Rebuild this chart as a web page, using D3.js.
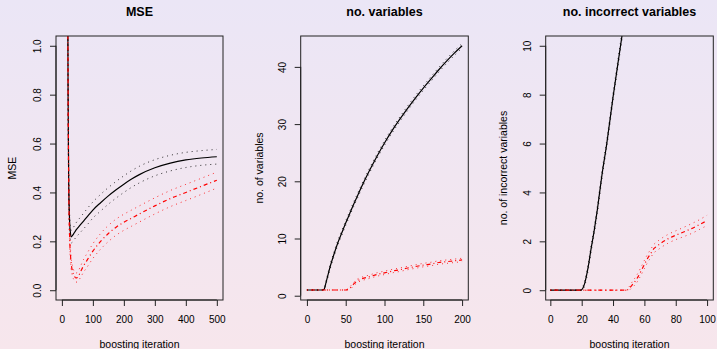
<!doctype html>
<html>
<head>
<title>boosting</title>
<script src="https://d3js.org/d3.v7.min.js"></script>
<style>
body { margin: 0; }
text { font-family: 'Liberation Sans', Arial, sans-serif; fill: #000; }
</style>
</head>
<body>
<div id="container"></div>
<script>

//// data ////

// MSE panel
var mseIter   = [18, 20, 22, 25, 28, 30, 35, 40, 45, 50, 60, 70, 80, 100, 125, 150, 175, 200, 225, 250, 300, 350, 400, 450, 500];
var mseBlack  = [1.6, 0.8, 0.45, 0.28, 0.23, 0.218, 0.225, 0.235, 0.245, 0.253, 0.268, 0.283, 0.298, 0.328, 0.358, 0.386, 0.411, 0.434, 0.455, 0.473, 0.501, 0.52, 0.533, 0.541, 0.546];
var mseBlackUp = [1.7, 0.86, 0.49, 0.31, 0.255, 0.245, 0.252, 0.263, 0.274, 0.283, 0.299, 0.315, 0.331, 0.361, 0.392, 0.42, 0.445, 0.468, 0.489, 0.507, 0.534, 0.552, 0.564, 0.571, 0.576];
var mseBlackLo = [1.5, 0.74, 0.41, 0.25, 0.205, 0.193, 0.198, 0.207, 0.216, 0.223, 0.237, 0.251, 0.265, 0.295, 0.324, 0.352, 0.377, 0.4, 0.421, 0.439, 0.468, 0.488, 0.502, 0.511, 0.516];
var mseRed    = [1.6, 0.85, 0.45, 0.22, 0.14, 0.11, 0.075, 0.058, 0.05, 0.052, 0.075, 0.1, 0.12, 0.16, 0.2, 0.232, 0.258, 0.278, 0.295, 0.312, 0.345, 0.375, 0.4, 0.425, 0.45];
var mseRedUp  = [1.7, 0.92, 0.5, 0.25, 0.165, 0.133, 0.095, 0.077, 0.07, 0.073, 0.098, 0.126, 0.148, 0.19, 0.232, 0.265, 0.291, 0.311, 0.328, 0.345, 0.378, 0.408, 0.433, 0.458, 0.483];
var mseRedLo  = [1.5, 0.78, 0.4, 0.19, 0.115, 0.087, 0.055, 0.04, 0.033, 0.034, 0.052, 0.074, 0.092, 0.13, 0.168, 0.199, 0.225, 0.245, 0.262, 0.279, 0.312, 0.342, 0.367, 0.392, 0.418];

// no. variables panel
var nvIter    = [0, 10, 20, 22, 25, 30, 35, 40, 45, 50, 55, 60, 65, 70, 80, 90, 100, 110, 120, 130, 140, 150, 160, 170, 180, 190, 200];
var nvBlack   = [1, 1, 1, 1.1, 2.5, 5.1, 7.3, 9.3, 11.0, 12.7, 14.3, 15.9, 17.4, 18.9, 21.7, 24.3, 26.7, 28.9, 30.9, 32.8, 34.6, 36.3, 37.9, 39.5, 41.0, 42.4, 43.7];
var nvBlackUp = [1, 1, 1, 1.3, 2.8, 5.5, 7.7, 9.7, 11.4, 13.1, 14.7, 16.3, 17.8, 19.3, 22.1, 24.7, 27.1, 29.3, 31.3, 33.2, 35.0, 36.7, 38.3, 39.9, 41.4, 42.8, 44.1];
var nvBlackLo = [1, 1, 1, 1.0, 2.2, 4.7, 6.9, 8.9, 10.6, 12.3, 13.9, 15.5, 17.0, 18.5, 21.3, 23.9, 26.3, 28.5, 30.5, 32.4, 34.2, 35.9, 37.5, 39.1, 40.6, 42.0, 43.3];
var nvRed     = [1, 1, 1, 1, 1, 1, 1, 1, 1, 1, 1.3, 2.0, 2.6, 2.9, 3.3, 3.7, 4.0, 4.3, 4.55, 4.85, 5.1, 5.35, 5.55, 5.8, 5.95, 6.1, 6.25];
var nvRedUp   = [1, 1, 1, 1, 1, 1, 1, 1, 1, 1, 1.5, 2.3, 2.9, 3.2, 3.6, 4.0, 4.3, 4.6, 4.85, 5.15, 5.4, 5.65, 5.85, 6.1, 6.25, 6.4, 6.55];
var nvRedLo   = [1, 1, 1, 1, 1, 1, 1, 1, 1, 1, 1.1, 1.7, 2.3, 2.6, 3.0, 3.4, 3.7, 4.0, 4.25, 4.55, 4.8, 5.05, 5.25, 5.5, 5.65, 5.8, 5.95];

// no. incorrect variables panel
var niIterBlack = [0, 10, 19, 20, 22, 24, 26, 28, 30, 33, 36, 40, 45, 50];
var niBlack     = [0, 0, 0, 0.02, 0.3, 0.9, 1.7, 2.45, 3.3, 4.75, 6.0, 7.9, 10.1, 12.3];
var niBlackUp   = [0, 0, 0, 0.05, 0.4, 1.02, 1.83, 2.6, 3.45, 4.9, 6.15, 8.05, 10.25, 12.45];
var niBlackLo   = [0, 0, 0, 0, 0.2, 0.78, 1.57, 2.3, 3.15, 4.6, 5.85, 7.75, 9.95, 12.15];
var niIterRed   = [0, 10, 20, 30, 40, 48, 50, 52, 55, 58, 60, 62, 64, 66, 68, 70, 75, 80, 85, 90, 95, 100];
var niRed       = [0, 0, 0, 0, 0, 0, 0.05, 0.2, 0.45, 0.8, 1.05, 1.3, 1.5, 1.7, 1.8, 1.9, 2.1, 2.25, 2.38, 2.52, 2.68, 2.85];
var niRedUp     = [0, 0, 0, 0, 0, 0, 0.12, 0.32, 0.6, 0.96, 1.22, 1.47, 1.67, 1.87, 1.98, 2.08, 2.28, 2.43, 2.57, 2.72, 2.88, 3.07];
var niRedLo     = [0, 0, 0, 0, 0, 0, 0, 0.1, 0.3, 0.64, 0.88, 1.13, 1.33, 1.53, 1.62, 1.72, 1.92, 2.07, 2.19, 2.32, 2.48, 2.65];

// tick labels
var mseXTicks = [0, 100, 200, 300, 400, 500];
var mseYTicks = [0, 0.2, 0.4, 0.6, 0.8, 1.0];
var nvXTicks  = [0, 50, 100, 150, 200];
var nvYTicks  = [0, 10, 20, 30, 40];
var niXTicks  = [0, 20, 40, 60, 80, 100];
var niYTicks  = [0, 2, 4, 6, 8, 10];

//////////////

var width = 717, height = 349;
var plotTop = 36, plotBottom = 300;

var svg = d3.select("#container")
	.append("svg")
	.attr("width", width)
	.attr("height", height);

var defs = svg.append("defs");

// soft lavender-to-pink background
var grad = defs.append("linearGradient")
	.attr("id", "bg")
	.attr("x1", 0).attr("y1", 0).attr("x2", 0).attr("y2", 1);
grad.append("stop").attr("offset", "0%").attr("stop-color", "#ebe6f6");
grad.append("stop").attr("offset", "100%").attr("stop-color", "#f7e6ec");

svg.append("rect")
	.attr("width", width)
	.attr("height", height)
	.attr("fill", "url(#bg)");

function zip(xs, ys) {
	return xs.map(function(d, i) { return [d, ys[i]]; });
}

function panel(p) {
	var x = d3.scaleLinear().domain(p.xdom).range([p.left, p.right]);
	var y = d3.scaleLinear().domain(p.ydom).range([plotBottom, plotTop]);

	defs.append("clipPath")
		.attr("id", p.id)
		.append("rect")
		.attr("x", p.left).attr("y", plotTop)
		.attr("width", p.right - p.left).attr("height", plotBottom - plotTop);

	var line = d3.line()
		.x(function(d) { return x(d[0]); })
		.y(function(d) { return y(d[1]); })
		.curve(d3.curveMonotoneX);

	var g = svg.append("g").attr("clip-path", "url(#" + p.id + ")");

	p.series.forEach(function(s) {
		g.append("path")
			.attr("d", line(zip(s.x, s.y)))
			.attr("fill", "none")
			.attr("stroke", s.color)
			.attr("stroke-width", s.width)
			.attr("stroke-dasharray", s.dash)
			.attr("stroke-opacity", s.opacity || 1);
	});

	// box
	svg.append("rect")
		.attr("x", p.left).attr("y", plotTop)
		.attr("width", p.right - p.left).attr("height", plotBottom - plotTop)
		.attr("fill", "none")
		.attr("stroke", "#222")
		.attr("stroke-width", 1);

	// x axis (R style: line only from first to last tick)
	var xa = svg.append("g")
		.attr("transform", "translate(0," + plotBottom + ")")
		.call(d3.axisBottom(x).tickValues(p.xticks).tickSize(6).tickPadding(9.5).tickFormat(p.xfmt));
	xa.select(".domain").remove();
	xa.append("line")
		.attr("x1", x(p.xticks[0])).attr("x2", x(p.xticks[p.xticks.length - 1]))
		.attr("stroke", "#222");
	xa.selectAll("text").style("font-size", "10px").attr("fill", "#000");
	xa.selectAll(".tick line").attr("stroke", "#222");

	// y axis with rotated labels
	var ya = svg.append("g")
		.attr("transform", "translate(" + p.left + ",0)")
		.call(d3.axisLeft(y).tickValues(p.yticks).tickSize(6).tickFormat(p.yfmt));
	ya.select(".domain").remove();
	ya.append("line")
		.attr("y1", y(p.yticks[0])).attr("y2", y(p.yticks[p.yticks.length - 1]))
		.attr("stroke", "#222");
	ya.selectAll(".tick line").attr("stroke", "#222");
	ya.selectAll("text")
		.attr("x", 0).attr("y", 0).attr("dy", "0.35em")
		.attr("text-anchor", "middle")
		.attr("transform", "translate(-18.5,0) rotate(-90)")
		.style("font-size", "10px")
		.attr("fill", "#000");

	var cx = (p.left + p.right) / 2;

	svg.append("text")
		.attr("x", cx).attr("y", 12).attr("dy", "0.35em")
		.attr("text-anchor", "middle")
		.style("font-size", "12.5px")
		.style("font-weight", "bold")
		.text(p.title);

	svg.append("text")
		.attr("x", cx).attr("y", 344).attr("dy", "0.35em")
		.attr("text-anchor", "middle")
		.style("font-size", "10.5px")
		.text("boosting iteration");

	svg.append("text")
		.attr("transform", "translate(" + p.ytx + "," + ((plotTop + plotBottom) / 2) + ") rotate(-90)")
		.attr("dy", "0.35em")
		.attr("text-anchor", "middle")
		.style("font-size", "10.5px")
		.text(p.ylab);
}

function seriesSet(xb, b, bu, bl, xr, r, ru, rl) {
	return [
		{x: xb, y: bu, color: "#000", width: 1, dash: "1,4", opacity: 0.8},
		{x: xb, y: bl, color: "#000", width: 1, dash: "1,4", opacity: 0.8},
		{x: xr, y: ru, color: "#ff0000", width: 1, dash: "1,4", opacity: 0.8},
		{x: xr, y: rl, color: "#ff0000", width: 1, dash: "1,4", opacity: 0.8},
		{x: xb, y: b, color: "#000", width: 1.2, dash: null},
		{x: xr, y: r, color: "#ff0000", width: 1.2, dash: "1,3,4,3"}
	];
}

panel({
	id: "c1", left: 56, right: 223,
	xdom: [-18.96, 519.96], ydom: [-0.04, 1.04],
	xticks: mseXTicks, yticks: mseYTicks,
	xfmt: d3.format("d"), yfmt: d3.format(".1f"),
	title: "MSE", ylab: "MSE", ytx: 12,
	series: seriesSet(mseIter, mseBlack, mseBlackUp, mseBlackLo, mseIter, mseRed, mseRedUp, mseRedLo)
});

panel({
	id: "c2", left: 300.7, right: 468.3,
	xdom: [-8, 208], ydom: [-0.75, 45.4],
	xticks: nvXTicks, yticks: nvYTicks,
	xfmt: d3.format("d"), yfmt: d3.format("d"),
	title: "no. variables", ylab: "no. of variables", ytx: 259,
	series: seriesSet(nvIter, nvBlack, nvBlackUp, nvBlackLo, nvIter, nvRed, nvRedUp, nvRedLo)
});

panel({
	id: "c3", left: 545.7, right: 713.3,
	xdom: [-2.96, 103.96], ydom: [-0.4, 10.4],
	xticks: niXTicks, yticks: niYTicks,
	xfmt: d3.format("d"), yfmt: d3.format("d"),
	title: "no. incorrect variables", ylab: "no. of incorrect variables", ytx: 503,
	series: seriesSet(niIterBlack, niBlack, niBlackUp, niBlackLo, niIterRed, niRed, niRedUp, niRedLo)
});

</script>
</body>
</html>
